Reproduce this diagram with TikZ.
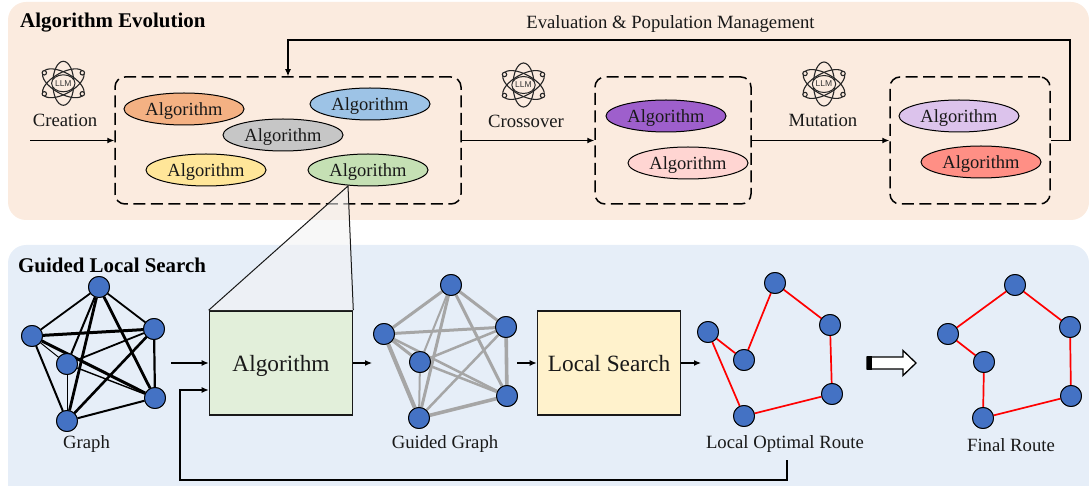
\documentclass[tikz,border=0pt]{standalone}
\usepackage{fontspec}
\setmainfont{Liberation Serif}
\newfontfamily\llmfont{Liberation Sans}
\usetikzlibrary{arrows.meta,calc,shapes.geometric}
\definecolor{panelA}{HTML}{FBEBDF}
\definecolor{panelB}{HTML}{E6EEF8}
\definecolor{vblue}{HTML}{4472C4}
\definecolor{gguide}{HTML}{A6A6A6}
\definecolor{cOrange}{HTML}{F4B183}
\definecolor{cBlue}{HTML}{9DC3E6}
\definecolor{cGray}{HTML}{C6C6C6}
\definecolor{cYellow}{HTML}{FFE699}
\definecolor{cGreen}{HTML}{C5E0B4}
\definecolor{cPurple}{HTML}{9E5FCC}
\definecolor{cPink}{HTML}{FFD5D2}
\definecolor{cLilac}{HTML}{DCC3EC}
\definecolor{cRed}{HTML}{FF8F85}
\definecolor{boxG}{HTML}{E2EFDA}
\definecolor{boxY}{HTML}{FFF2CC}
\definecolor{wedge}{HTML}{F3F3F3}
\newcommand{\fsz}[1]{\fontsize{#1}{#1}\selectfont}
\newcommand{\llmicon}[3]{%
  \begin{scope}[shift={(#1,#2)}]
    \draw[orbit] (0,0) ellipse [x radius=10.5,y radius=22];
    \draw[orbit,rotate=61] (0,0) ellipse [x radius=10.5,y radius=23];
    \draw[orbit,rotate=-61] (0,0) ellipse [x radius=10.5,y radius=23];
    \foreach \a/\b in {-19/-10.5,19/-10.5,-19/10.5,19/10.5}
      \draw[orbit,fill=panelA] (\a,\b) circle (2.2);
    \node[llmcore] (#3) at (0,0) {LLM};
  \end{scope}}
\newcommand{\sixv}[1]{%
  \foreach \n/\px/\py in {#1}
    \node[vtx] (\n) at (\px,\py) {};}
\tikzset{
  x=1pt,y=-1pt,
  orbit/.style={draw=black!85,line width=1.1pt},
  llmcore/.style={draw=black!85,line width=1pt,fill=panelA,ellipse,inner sep=0pt,minimum width=22pt,minimum height=17pt,font=\llmfont\fsz{8.5},text=black!80},
  panel/.style={rounded corners=18pt},
  dbox/.style={draw,line width=1.5pt,dash pattern=on 12pt off 5.5pt,rounded corners=10pt,inner sep=0pt},
  algo/.style={draw=black,line width=1pt,ellipse,minimum width=120pt,minimum height=32pt,inner sep=0pt,font=\fsz{18.5},text=black!90,text height=15pt,text depth=1pt},
  bigbox/.style={draw=black!90,line width=1.6pt,minimum width=143pt,minimum height=104pt,inner sep=0pt,text height=18pt,text depth=2pt,font=\fsz{23.3},text=black!90},
  vtx/.style={circle,draw=black,line width=0.9pt,fill=vblue,minimum size=21pt,inner sep=0pt},
  lab/.style={font=\fsz{18.7},text=black!90,inner sep=0pt},
  head/.style={font=\bfseries\fsz{20.9},inner sep=0pt,anchor=west},
  conn/.style={line width=1.2pt,-{Latex[length=7pt,width=6pt]}},
  route/.style={red,line width=1.7pt},
  plain/.style={line width=1.2pt},
}
\begin{document}
\begin{tikzpicture}
\useasboundingbox (0,0) rectangle (1089,486);
\fill[panelA,panel] (8,2) -- (8,220) -- (1089,220) -- (1089,2) -- cycle;
\fill[panelB,panel] (8,245) -- (8,510) -- (1089,510) -- (1089,245) -- cycle;

\node[head] (t1) at (20,22.5) {Algorithm Evolution};
\node[head] (t2) at (18,265.5) {Guided Local Search};
\node[lab] (evalt) at (670.5,24) {Evaluation \& Population Management};

% dashed boxes
\node[dbox,minimum width=346pt,minimum height=127pt] (b1) at (288,140.5) {};
\node[dbox,minimum width=156pt,minimum height=127pt] (b2) at (673,140.5) {};
\node[dbox,minimum width=160pt,minimum height=127pt] (b3) at (970,140.5) {};

% big boxes
\node[bigbox,fill=boxG] (alg) at (281,363) {Algorithm};
\node[bigbox,fill=boxY] (ls) at (609,363) {Local Search};

% algorithms
\node[algo,fill=cGreen] (a5) at (368,170) {Algorithm};

% zoom wedge
\coordinate (apex) at (348,186);
\fill[wedge,opacity=.56] (apex) -- (alg.north west) -- (alg.north east) -- cycle;
\draw[line width=1pt,black!90] (alg.north west) -- (apex) -- (alg.north east);

\node[algo,fill=cOrange] (a1) at (184,109) {Algorithm};
\node[algo,fill=cBlue] (a2) at (370,104) {Algorithm};
\node[algo,fill=cGray] (a3) at (283,135) {Algorithm};
\node[algo,fill=cYellow] (a4) at (206,170) {Algorithm};
\node[algo,fill=cPurple] (a6) at (666,116) {Algorithm};
\node[algo,fill=cPink] (a7) at (688,163) {Algorithm};
\node[algo,fill=cLilac] (a8) at (959,116) {Algorithm};
\node[algo,fill=cRed] (a9) at (981,162) {Algorithm};

% LLM icons
\llmicon{63.3}{83.3}{llm1}
\llmicon{523.5}{85}{llm2}
\llmicon{824}{84}{llm3}
\node[lab] (creat) at (65,120) {Creation};
\node[lab] (cross) at (526,121) {Crossover};
\node[lab] (mut) at (823,120) {Mutation};

% top connectors
\coordinate (cstart) at (30,140.5);
\coordinate (l1) at (1070,140.5);
\coordinate (l2) at (1070,40);
\coordinate (l3) at (288,40);
\draw[conn] (cstart) -- (b1.west);
\draw[conn] (b1.east) -- (b2.west);
\draw[conn] (b2.east) -- (b3.west);
\draw[conn] (b3.east) -- (l1) -- (l2) -- (l3) -- (b1.north);

% vertices, named so that edges can refer to them
\sixv{p1/99/287,p2/154/329,p3/155/398,p4/67/421,p5/32/336,p6/67/364}
\sixv{q1/451/285,q2/506/327,q3/507/396,q4/419/418,q5/384/334,q6/420/362}
\sixv{r1/775/283,r2/830/325,r3/832/394,r4/744/416,r5/708/332,r6/744/360}
\sixv{f1/1015/285,f2/1070/327,f3/1071/396,f4/983/418,f5/948/334,f6/984/362}

\node[lab] (glab) at (86.5,444.5) {Graph};
\node[lab] (qlab) at (445,444.5) {Guided Graph};
\node[lab] (rlab) at (785,444.5) {Local Optimal Route};
\node[lab] (flab) at (1011,445) {Final Route};

% edges, then the vertices again on top of them
\foreach \u/\v/\w in {p1/p5/1.8,p1/p2/1.8,p1/p6/2,p1/p4/2.8,p1/p3/2.8,p2/p5/3,p2/p6/1.8,p2/p4/2.6,p2/p3/2.2,p5/p3/3,p5/p6/1,p5/p4/2,p6/p4/1,p6/p3/1.4,p4/p3/2}
  \draw[line width=\w pt] (\u) -- (\v);
\foreach \u/\v/\w in {q1/q5/3,q1/q2/3,q1/q6/2,q1/q4/3,q1/q3/3,q2/q5/3,q2/q6/2.5,q2/q4/2.5,q2/q3/3.6,q5/q3/2.5,q5/q6/3,q5/q4/4,q6/q4/2,q6/q3/2.5,q4/q3/3.6}
  \draw[gguide,line width=\w pt] (\u) -- (\v);
\foreach \u/\v in {r5/r6,r6/r1,r1/r2,r2/r3,r3/r4,r4/r5}
  \draw[route] (\u) -- (\v);
\foreach \u/\v in {f5/f6,f6/f4,f4/f3,f3/f2,f2/f1,f1/f5}
  \draw[route] (\u) -- (\v);
\sixv{p1/99/287,p2/154/329,p3/155/398,p4/67/421,p5/32/336,p6/67/364}
\sixv{q1/451/285,q2/506/327,q3/507/396,q4/419/418,q5/384/334,q6/420/362}
\sixv{r1/775/283,r2/830/325,r3/832/394,r4/744/416,r5/708/332,r6/744/360}
\sixv{f1/1015/285,f2/1070/327,f3/1071/396,f4/983/418,f5/948/334,f6/984/362}

% bottom connectors
\coordinate (gin) at (171,363);
\coordinate (gout) at (372,363);
\coordinate (qout) at (517,363);
\coordinate (rin) at (701,363);
\coordinate (fb0) at (787,460);
\coordinate (fb1) at (787,480);
\coordinate (fb2) at (180,480);
\coordinate (fb3) at (180,390);
\coordinate (fb4) at (alg.west |- fb3);
\draw[conn] (gin) -- (alg.west);
\draw[conn] (alg.east) -- (gout);
\draw[conn] (qout) -- (ls.west);
\draw[conn] (ls.east) -- (rin);
\draw[conn] (fb0) -- (fb1) -- (fb2) -- (fb3) -- (fb4);

% hollow arrow
\draw[line width=1.3pt,fill=white,line join=miter] (867,357) -- (903,357) -- (903,350.5) -- (916,363) -- (903,375.5) -- (903,369) -- (867,369) -- cycle;
\fill (867,356.4) rectangle (872,369.6);
\end{tikzpicture}
\end{document}
